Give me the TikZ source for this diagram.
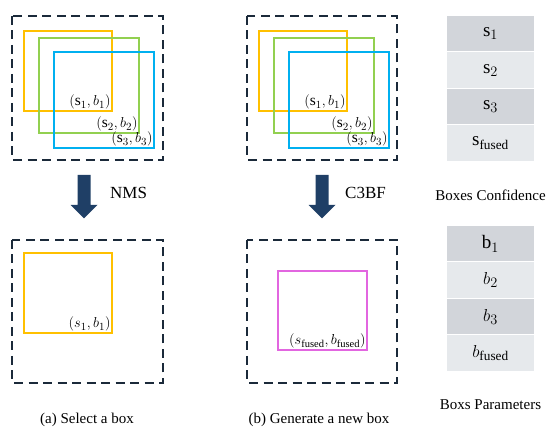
\documentclass[tikz,border=0pt]{standalone}
\usepackage{fontspec}
\setmainfont{Liberation Serif}
\begin{document}
\begin{tikzpicture}[x=1pt,y=-1pt,
  frame/.style={draw=dashcol,line width=2.4pt,dash pattern=on 9pt off 5.5pt},
  cand/.style={draw=#1,line width=2pt,fill=none,inner sep=0pt},
  lbl/.style={font=\fontsize{15.5}{17}\selectfont,inner sep=1.2pt,anchor=south east},
  cell/.style={fill=#1,minimum width=87pt,minimum height=35.5pt,inner sep=0pt,font=\fontsize{19}{21}\selectfont},
  captxt/.style={font=\fontsize{15}{18}\selectfont,inner sep=0pt},
  optxt/.style={font=\fontsize{17}{20}\selectfont,inner sep=0pt,anchor=west},
  arr/.style={fill=arrcol}]
\definecolor{dashcol}{HTML}{1B2A3A}
\definecolor{arrcol}{HTML}{1F3F66}
\definecolor{cyel}{HTML}{FFC000}
\definecolor{cgrn}{HTML}{92D050}
\definecolor{cblu}{HTML}{00B0F0}
\definecolor{cpnk}{HTML}{E266E0}
\definecolor{rowdark}{HTML}{D2D5DA}
\definecolor{rowlight}{HTML}{E6E9EC}
\useasboundingbox (0,0) rectangle (550,435);

% top-left panel
\draw[frame] (12,16) rectangle (163,160);
\draw[cand=cyel] (24,31) rectangle (112,111) coordinate (y1se);
\draw[cand=cgrn] (39,38) rectangle (139,133) coordinate (g1se);
\draw[cand=cblu] (54,52) rectangle (154,148) coordinate (b1se);
\node[lbl] (l11) at (y1se) {$(\mathrm{s}_1, b_1)$};
\node[lbl] (l12) at (g1se) {$(\mathrm{s}_2, b_2)$};
\node[lbl] (l13) at (b1se) {$(\mathrm{s}_3, b_3)$};

% top-middle panel
\draw[frame] (247,16) rectangle (397,160);
\draw[cand=cyel] (259,31) rectangle (347,111) coordinate (y2se);
\draw[cand=cgrn] (274,38) rectangle (374,133) coordinate (g2se);
\draw[cand=cblu] (289,52) rectangle (389,148) coordinate (b2se);
\node[lbl] (l21) at (y2se) {$(\mathrm{s}_1, b_1)$};
\node[lbl] (l22) at (g2se) {$(\mathrm{s}_2, b_2)$};
\node[lbl] (l23) at (b2se) {$(\mathrm{s}_3, b_3)$};

% arrows
\fill[arr] (77.5,175) -- (90.5,175) -- (90.5,205) -- (97.5,205) -- (84,218.5) -- (70.5,205) -- (77.5,205) -- cycle;
\node[optxt] (nms) at (110,193) {NMS};
\fill[arr] (315.5,175) -- (328.5,175) -- (328.5,205) -- (335.5,205) -- (322,218.5) -- (308.5,205) -- (315.5,205) -- cycle;
\node[optxt] (c3bf) at (345,193) {C3BF};

% bottom-left panel
\draw[frame] (12,240) rectangle (163,383);
\draw[cand=cyel] (24,253) rectangle (112,333) coordinate (y3se);
\node[lbl] (l31) at (y3se) {$(s_1, b_1)$};

% bottom-middle panel
\draw[frame] (247,240) rectangle (397,383);
\draw[cand=cpnk] (278,271) rectangle (367,350) coordinate (p4se);
\node[lbl,font=\fontsize{15}{17}\selectfont] (l41) at (p4se) {$(s_{\mathrm{fused}}, b_{\mathrm{fused}})$};

% captions
\node[captxt] (capa) at (87,420) {(a) Select a box};
\node[captxt] (capb) at (319,420) {(b) Generate a new box};

% confidence table
\node[cell=rowdark]  (s1) at (490.5,33.75) {$\mathrm{s}_1$};
\node[cell=rowlight] (s2) at (490.5,70.25) {$\mathrm{s}_2$};
\node[cell=rowdark]  (s3) at (490.5,106.75) {$\mathrm{s}_3$};
\node[cell=rowlight] (sf) at (490.5,143.25) {$\mathrm{s}_{\mathrm{fused}}$};
\node[captxt] (conf) at (490.5,195) {Boxes Confidence};

% parameters table
\node[cell=rowdark]  (p1) at (490.5,243.75) {$\mathrm{b}_1$};
\node[cell=rowlight] (p2) at (490.5,280.25) {$b_2$};
\node[cell=rowdark]  (p3) at (490.5,316.75) {$b_3$};
\node[cell=rowlight] (pf) at (490.5,353.25) {$b_{\mathrm{fused}}$};
\node[captxt] (par) at (490.5,405) {Boxs Parameters};
\end{tikzpicture}
\end{document}
